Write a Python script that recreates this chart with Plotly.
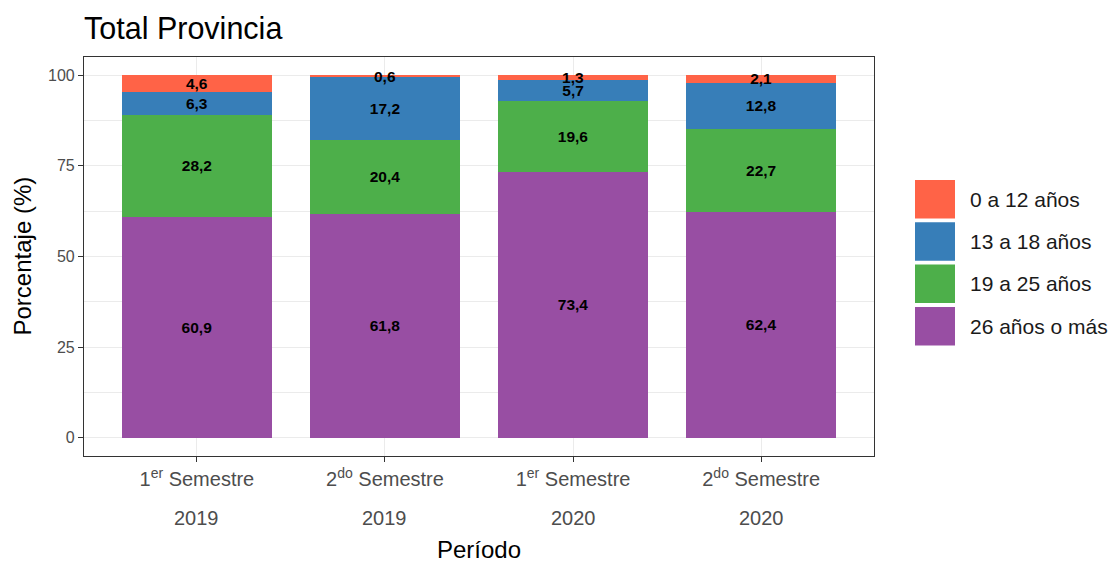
import plotly.graph_objects as go

semesters = ["1<sup>er</sup> Semestre", "2<sup>do</sup> Semestre",
             "1<sup>er</sup> Semestre", "2<sup>do</sup> Semestre"]
years = ["2019", "2019", "2020", "2020"]
x_pos = [1, 2, 3, 4]
groups = ["26 años o más", "19 a 25 años", "13 a 18 años", "0 a 12 años"]
v_26_mas = [60.9, 61.8, 73.4, 62.4]
v_19_25 = [28.2, 20.4, 19.6, 22.7]
v_13_18 = [6.3, 17.2, 5.7, 12.8]
v_0_12 = [4.6, 0.6, 1.3, 2.1]
colors = ["#984EA3", "#4DAF4A", "#377EB8", "#FF6347"]
series = [v_26_mas, v_19_25, v_13_18, v_0_12]

FONT = "Liberation Sans, Arial, sans-serif"
PW, PH = 790, 399  # panel size in px

fig = go.Figure()
for name, vals, col in zip(groups, series, colors):
    fig.add_trace(go.Bar(
        x=x_pos, y=vals, name=name, marker=dict(color=col, line=dict(width=0)),
        width=0.8,
        text=[f"{v:.1f}".replace(".", ",") for v in vals],
        textposition="inside", insidetextanchor="middle", textangle=0,
        textfont=dict(family=FONT, size=15.5, color="black", weight="bold"),
        showlegend=False,
    ))

# year row under the semester tick labels
for xp, yr in zip(x_pos, years):
    fig.add_annotation(xref="x", yref="paper", x=xp, y=-(518 - 456) / PH,
                       text=yr, showarrow=False, xanchor="center", yanchor="middle",
                       font=dict(family=FONT, size=20, color="#4D4D4D"))

# manual ggplot-like legend (top to bottom: 0-12, 13-18, 19-25, 26+)
leg_names = groups[::-1]
leg_cols = colors[::-1]
for i, (n, c) in enumerate(zip(leg_names, leg_cols)):
    top_px = 180 + i * 42.3 - 57
    y1 = 1 - top_px / PH
    y0 = 1 - (top_px + 38.5) / PH
    fig.add_shape(type="rect", xref="paper", yref="paper",
                  x0=(915 - 84) / PW, x1=(955 - 84) / PW, y0=y0, y1=y1,
                  fillcolor=c, line=dict(width=0))
    fig.add_annotation(xref="paper", yref="paper", x=(968 - 84) / PW, y=(y0 + y1) / 2,
                       text=n, showarrow=False, xanchor="left", yanchor="middle",
                       font=dict(family=FONT, size=21, color="#1A1A1A"))

# axis titles
fig.add_annotation(xref="paper", yref="paper", x=0.5, y=-(549 - 456) / PH,
                   text="Período", showarrow=False, xanchor="center", yanchor="middle",
                   font=dict(family=FONT, size=24, color="black"))
fig.add_annotation(xref="paper", yref="paper", x=-(84 - 22) / PW, y=0.5,
                   text="Porcentaje (%)", showarrow=False, xanchor="center", yanchor="middle",
                   textangle=-90, font=dict(family=FONT, size=24, color="black"))

fig.update_layout(
    barmode="stack",
    width=1111, height=556,
    margin=dict(l=76, r=245, t=49, b=108, autoexpand=False),
    paper_bgcolor="white", plot_bgcolor="white",
    font=dict(family=FONT),
    title=dict(text="Total Provincia", xref="paper", x=0, xanchor="left",
               yref="container", y=1 - 20 / 556, yanchor="middle",
               font=dict(family=FONT, size=30.5, color="black")),
    uniformtext=dict(minsize=15.5, mode="show"),
)
fig.update_xaxes(
    range=[0.4, 4.6], tickvals=x_pos, ticktext=semesters,
    showgrid=True, gridcolor="#EBEBEB", gridwidth=1.1,
    ticks="outside", ticklen=5, tickcolor="#333333", tickwidth=1.1,
    tickfont=dict(family=FONT, size=20, color="#4D4D4D"),
    showline=True, linecolor="#333333", linewidth=1.1, mirror=True,
    zeroline=False,
)
fig.update_yaxes(
    range=[-5, 105], tickvals=[0, 25, 50, 75, 100],
    showgrid=True, gridcolor="#EBEBEB", gridwidth=1.1,
    minor=dict(tickvals=[12.5, 37.5, 62.5, 87.5], showgrid=True, gridcolor="#EBEBEB", gridwidth=0.55),
    ticks="outside", ticklen=5, tickcolor="#333333", tickwidth=1.1,
    tickfont=dict(family=FONT, size=16, color="#4D4D4D"),
    showline=True, linecolor="#333333", linewidth=1.1, mirror=True,
    zeroline=False,
)

fig.write_html("out.html")
